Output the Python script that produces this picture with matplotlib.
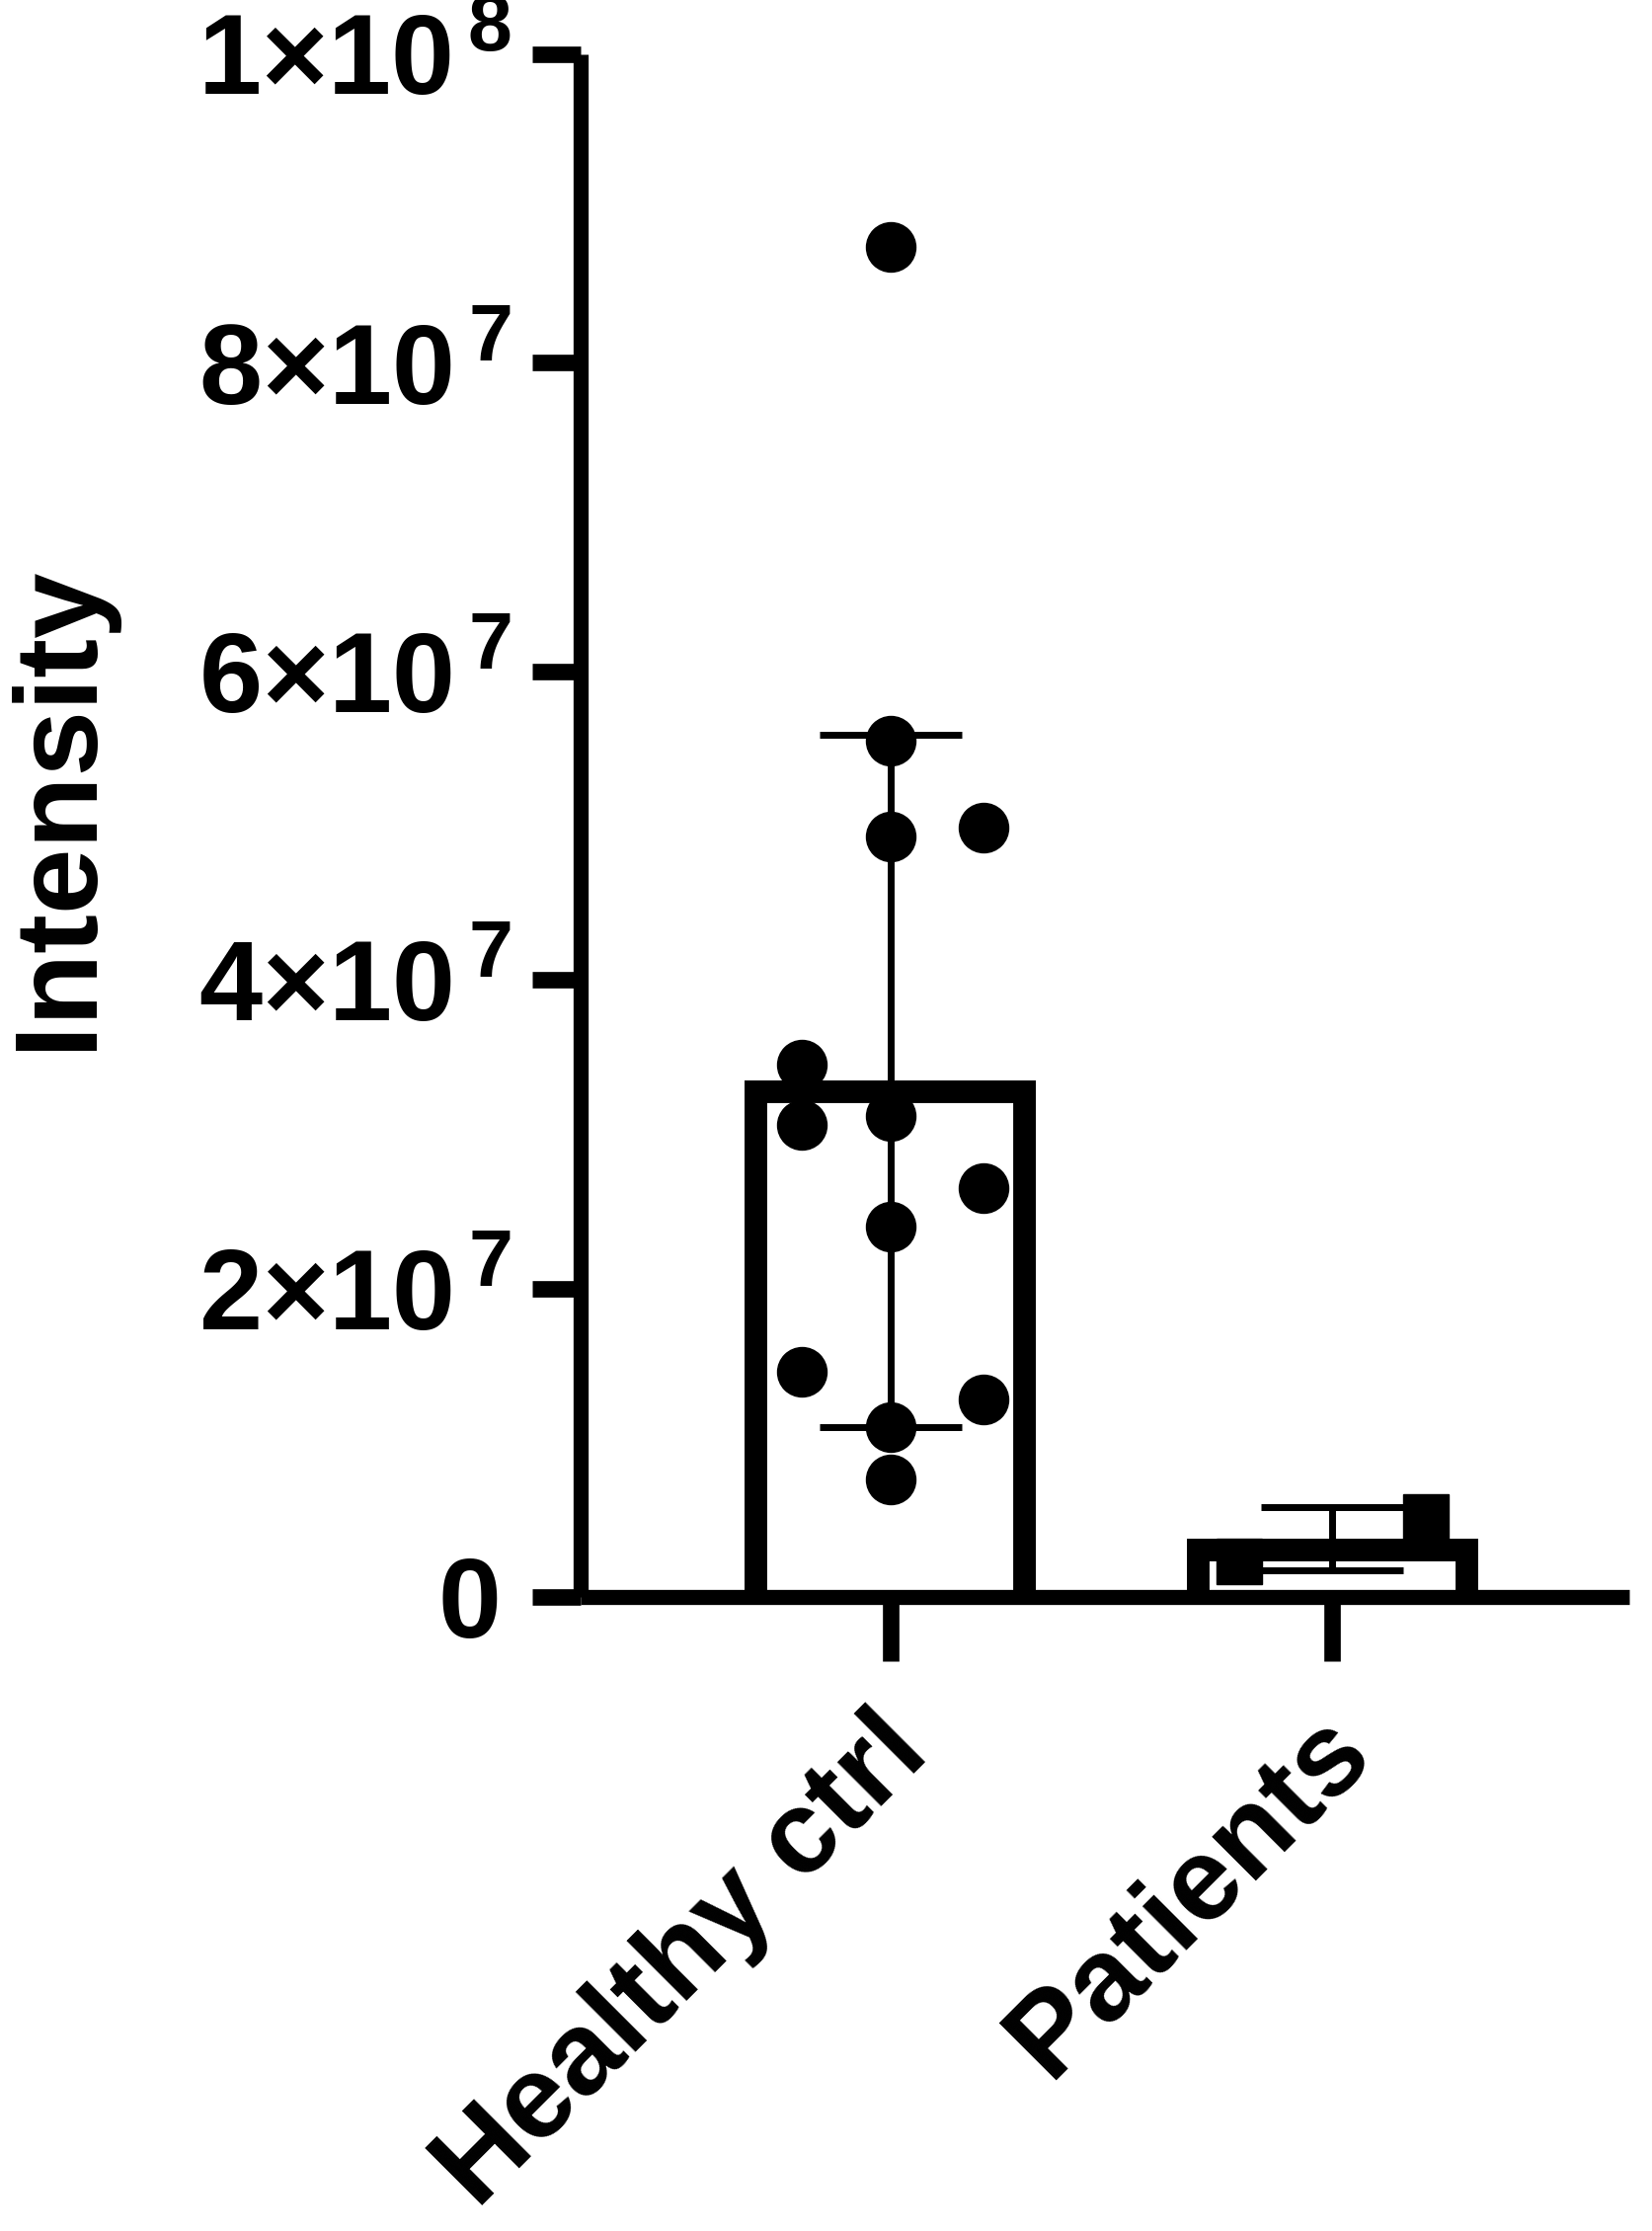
import matplotlib
matplotlib.use('Agg')
import matplotlib.pyplot as plt
from matplotlib.transforms import ScaledTranslation, TransformedPatchPath
import numpy as np

plt.rcParams['font.family'] = ['Liberation Sans', 'DejaVu Sans']
plt.rcParams['mathtext.fontset'] = 'custom'
plt.rcParams['mathtext.rm'] = 'Liberation Sans'
plt.rcParams['mathtext.bf'] = 'Liberation Sans:bold'

# data
groups = ['Healthy ctrl', 'Patients']
healthy = [87.5e6, 55.5e6, 49.3e6, 49.9e6, 34.5e6, 30.6e6, 31.2e6,
           26.5e6, 24.0e6, 14.6e6, 12.8e6, 11.0e6, 7.6e6]
patients = [2.3e6, 5.2e6]
ytick_vals = [0, 2e7, 4e7, 6e7, 8e7, 1e8]
ytick_labels = ['0', '2×10^7', '4×10^7', '6×10^7', '8×10^7', '1×10^8']

# horizontal scatter of the dots inside each bar (layout only)
healthy_jit = [0, 0, 0, 0.21, -0.2, -0.2, 0, 0.21, 0, -0.2, 0.21, 0, 0]
patients_jit = [-0.21, 0.21]


def fmt(s):
	if '^' not in s:
		return r'$\mathbf{%s}$' % s
	base, exp = s.split('^')
	return r'$\mathbf{%s}^{\,\mathbf{%s}}$' % (base, exp)


fig = plt.figure(figsize=(16.73, 22.59), dpi=100)
ax = fig.add_axes([0.3515, 0.2842, 0.6345, 0.6915])

x = np.arange(len(groups))
data = [np.array(healthy), np.array(patients)]
means = np.array([d.mean() for d in data])
sds = np.array([d.std(ddof=1) for d in data])

# bar outline drawn on the inside only (stroke clipped to the bar itself);
# bars start a bit below zero so the bottom edge is cut by the axes clip
below = 3e6
bars = ax.bar(x, means + below, bottom=-below, width=0.66, facecolor='white',
	edgecolor='black', linewidth=33, zorder=1)
for b in bars:
	b.set_clip_path(TransformedPatchPath(b))

ax.errorbar(x, means, yerr=sds, fmt='none', ecolor='black', elinewidth=5,
	capsize=52, capthick=5, zorder=2)

ax.plot(x[0] + np.array(healthy_jit), healthy, 'o', color='black',
	markersize=36, zorder=3)
ax.plot(x[1] + np.array(patients_jit), patients, 's', color='black',
	markersize=33, zorder=3)

ax.set_xlim(-0.70, 1.67)
ax.set_ylim(0, 1e8)
ax.set_yticks(ytick_vals)
ax.set_yticklabels([fmt(t) for t in ytick_labels], fontsize=83)
ax.set_xticks(x)
ax.set_xticklabels(groups, rotation=45, ha='right', va='top',
	rotation_mode='anchor', fontsize=86, fontweight='bold')

for side in ['top', 'right']:
	ax.spines[side].set_visible(False)
for side in ['left', 'bottom']:
	ax.spines[side].set_linewidth(11)
	ax.spines[side].set_capstyle('butt')
ax.spines['bottom'].set_zorder(4)

ax.tick_params(axis='y', length=35, width=12, pad=15)
ax.tick_params(axis='x', length=47, width=12, pad=25)

# small offsets applied after tick_params (which resets label transforms)
ylabs = ax.get_yticklabels()
ylabs[0].set_transform(ylabs[0].get_transform() +
	ScaledTranslation(-0.14, 0, fig.dpi_scale_trans))
shift = ScaledTranslation(-0.19, 0, fig.dpi_scale_trans)
for lab in ax.get_xticklabels():
	lab.set_transform(lab.get_transform() + shift)

ax.set_ylabel('Intensity', fontsize=86, fontweight='bold')
ax.yaxis.set_label_coords(-0.445, 0.512)

fig.savefig('out.png', dpi=100)
